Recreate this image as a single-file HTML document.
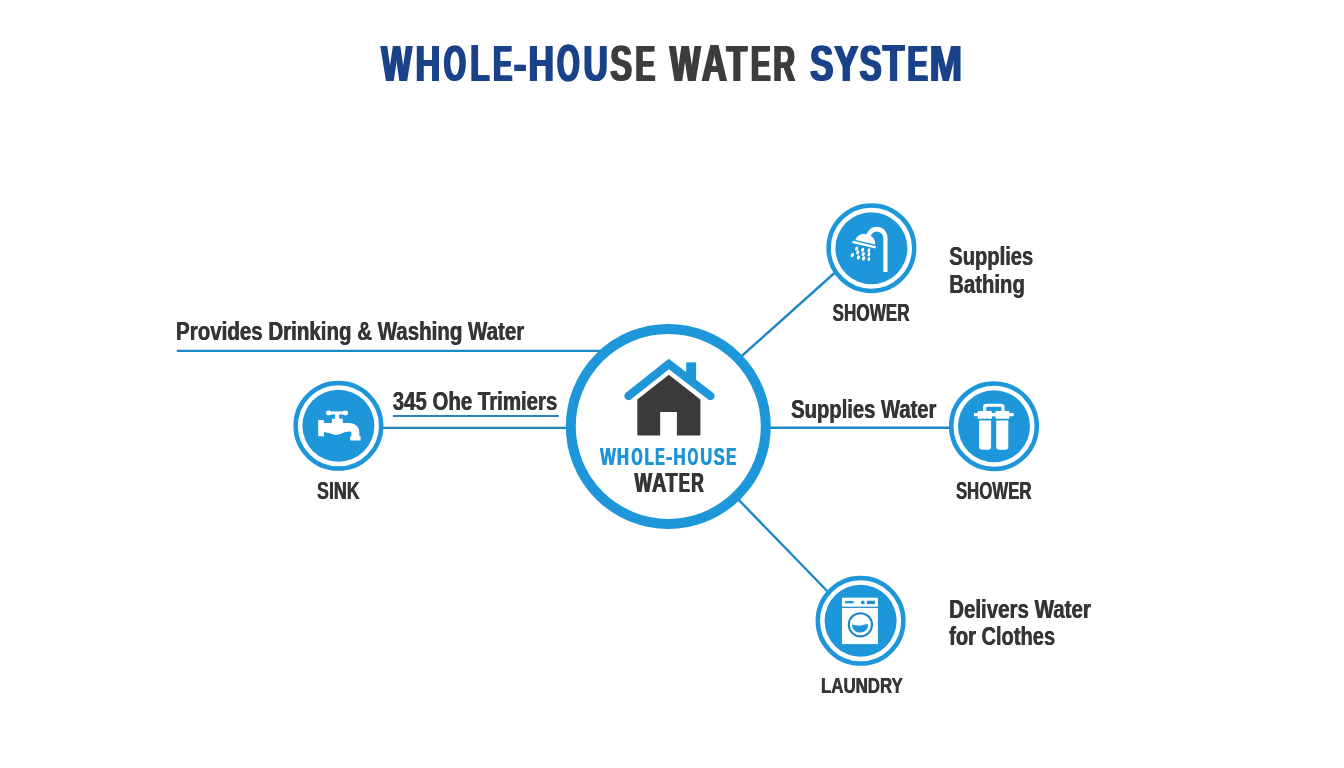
<!DOCTYPE html>
<html><head><meta charset="utf-8">
<style>
html,body{margin:0;padding:0;background:#fff;width:1344px;height:768px;overflow:hidden}
.wrap{will-change:transform;opacity:0.999}
svg{display:block}
text{-webkit-font-smoothing:antialiased}
text{font-family:"Liberation Sans",sans-serif;font-weight:bold}
</style></head>
<body>
<div class="wrap"><svg width="1344" height="768" viewBox="0 0 1344 768">
<rect width="1344" height="768" fill="#fff"/>

<!-- Title -->
<g id="title">
<text transform="translate(380.37 81.25) scale(0.6324 1)" font-size="50.87" fill="#19428a" style="text-shadow:2.85px 0 0 #19428a">W</text>
<text transform="translate(414.40 81.25) scale(0.6754 1)" font-size="50.87" fill="#19428a" style="text-shadow:2.67px 0 0 #19428a">H</text>
<text transform="translate(442.84 81.25) scale(0.5573 1)" font-size="50.87" fill="#19428a" style="text-shadow:3.23px 0 0 #19428a">O</text>
<text transform="translate(469.30 81.25) scale(0.6167 1)" font-size="50.87" fill="#19428a" style="text-shadow:2.92px 0 0 #19428a">L</text>
<text transform="translate(492.08 81.25) scale(0.5641 1)" font-size="50.87" fill="#19428a" style="text-shadow:3.19px 0 0 #19428a">E</text>
<text transform="translate(512.84 81.25) scale(0.7355 1)" font-size="50.87" fill="#19428a" style="text-shadow:2.45px 0 0 #19428a">-</text>
<text transform="translate(527.43 81.25) scale(0.6955 1)" font-size="50.87" fill="#19428a" style="text-shadow:2.59px 0 0 #19428a">H</text>
<text transform="translate(555.90 81.25) scale(0.5743 1)" font-size="50.87" fill="#19428a" style="text-shadow:3.13px 0 0 #19428a">O</text>
<text transform="translate(582.48 81.25) scale(0.6606 1)" font-size="50.87" fill="#19428a" style="text-shadow:2.72px 0 0 #19428a">U</text>
<text transform="translate(609.16 81.25) scale(0.6431 1)" font-size="50.87" fill="#3c3c3c" style="text-shadow:2.80px 0 0 #3c3c3c">S</text>
<text transform="translate(634.31 81.25) scale(0.5851 1)" font-size="50.87" fill="#3c3c3c" style="text-shadow:3.08px 0 0 #3c3c3c">E</text>
<text transform="translate(668.87 81.25) scale(0.6344 1)" font-size="50.87" fill="#3c3c3c" style="text-shadow:2.84px 0 0 #3c3c3c">W</text>
<text transform="translate(700.84 81.25) scale(0.6798 1)" font-size="50.87" fill="#3c3c3c" style="text-shadow:2.65px 0 0 #3c3c3c">A</text>
<text transform="translate(725.62 81.25) scale(0.6576 1)" font-size="50.87" fill="#3c3c3c" style="text-shadow:2.74px 0 0 #3c3c3c">T</text>
<text transform="translate(749.72 81.25) scale(0.5816 1)" font-size="50.87" fill="#3c3c3c" style="text-shadow:3.09px 0 0 #3c3c3c">E</text>
<text transform="translate(772.30 81.25) scale(0.5884 1)" font-size="50.87" fill="#3c3c3c" style="text-shadow:3.06px 0 0 #3c3c3c">R</text>
<text transform="translate(809.10 81.25) scale(0.6824 1)" font-size="50.87" fill="#19428a" style="text-shadow:2.64px 0 0 #19428a">S</text>
<text transform="translate(833.29 81.25) scale(0.7009 1)" font-size="50.87" fill="#19428a" style="text-shadow:2.57px 0 0 #19428a">Y</text>
<text transform="translate(858.55 81.25) scale(0.6464 1)" font-size="50.87" fill="#19428a" style="text-shadow:2.78px 0 0 #19428a">S</text>
<text transform="translate(881.70 81.25) scale(0.6977 1)" font-size="50.87" fill="#19428a" style="text-shadow:2.58px 0 0 #19428a">T</text>
<text transform="translate(906.24 81.25) scale(0.6061 1)" font-size="50.87" fill="#19428a" style="text-shadow:2.97px 0 0 #19428a">E</text>
<text transform="translate(928.38 81.25) scale(0.7703 1)" font-size="50.87" fill="#19428a" style="text-shadow:2.34px 0 0 #19428a">M</text>
</g>




<!-- connector lines -->
<g stroke="#1e88c6" stroke-width="2.4" fill="none">
  <line x1="176.8" y1="350.9" x2="605" y2="350.9"/>
  <line x1="766" y1="427.8" x2="952" y2="427.8"/>
  <line x1="735" y1="362" x2="840" y2="268"/>
  <line x1="733" y1="494" x2="832" y2="596"/>
</g>
<g stroke="#2784b4" stroke-width="2.2" fill="none">
  <line x1="380" y1="427.9" x2="570" y2="427.9"/>
  <line x1="393" y1="416" x2="558.8" y2="416"/>
</g>

<!-- central circle -->
<circle cx="668.3" cy="426.4" r="97.5" fill="#fff" stroke="#1d97da" stroke-width="10"/>

<!-- house -->
<path d="M637.3 399.5 L668.8 374.8 L700.4 399.5 V434.4 Q700.4 435.4 699.4 435.4 H676.9 V411.9 H660.2 V435.4 H638.3 Q637.3 435.4 637.3 434.4 Z" fill="#3c3a3b"/>
<rect x="686.2" y="362.4" width="9.9" height="20" fill="#1d97da"/>
<polyline points="628.5,396 668.8,364 710.5,396" fill="none" stroke="#1d97da" stroke-width="8.3" stroke-linecap="round" stroke-linejoin="miter"/>

<!-- central text -->
<g id="cwh">
<text transform="translate(599.68 464.9) scale(0.6786 1)" font-size="24.56" fill="#1d94d6" style="text-shadow:1.03px 0 0 #1d94d6">W</text>
<text transform="translate(616.60 464.9) scale(0.6717 1)" font-size="24.56" fill="#1d94d6" style="text-shadow:1.04px 0 0 #1d94d6">H</text>
<text transform="translate(631.02 464.9) scale(0.5742 1)" font-size="24.56" fill="#1d94d6" style="text-shadow:1.22px 0 0 #1d94d6">O</text>
<text transform="translate(644.31 464.9) scale(0.6029 1)" font-size="24.56" fill="#1d94d6" style="text-shadow:1.16px 0 0 #1d94d6">L</text>
<text transform="translate(654.72 464.9) scale(0.5950 1)" font-size="24.56" fill="#1d94d6" style="text-shadow:1.18px 0 0 #1d94d6">E</text>
<text transform="translate(665.55 464.9) scale(0.7856 1)" font-size="24.56" fill="#1d94d6" style="text-shadow:0.89px 0 0 #1d94d6">-</text>
<text transform="translate(673.06 464.9) scale(0.6925 1)" font-size="24.56" fill="#1d94d6" style="text-shadow:1.01px 0 0 #1d94d6">H</text>
<text transform="translate(687.25 464.9) scale(0.5508 1)" font-size="24.56" fill="#1d94d6" style="text-shadow:1.27px 0 0 #1d94d6">O</text>
<text transform="translate(700.02 464.9) scale(0.6637 1)" font-size="24.56" fill="#1d94d6" style="text-shadow:1.05px 0 0 #1d94d6">U</text>
<text transform="translate(713.33 464.9) scale(0.6591 1)" font-size="24.56" fill="#1d94d6" style="text-shadow:1.06px 0 0 #1d94d6">S</text>
<text transform="translate(725.77 464.9) scale(0.6240 1)" font-size="24.56" fill="#1d94d6" style="text-shadow:1.12px 0 0 #1d94d6">E</text>
</g>
<g id="cwa">
<text transform="translate(633.88 492.3) scale(0.6623 1)" font-size="28.05" fill="#353535" style="text-shadow:1.36px 0 0 #353535">W</text>
<text transform="translate(651.50 492.3) scale(0.7120 1)" font-size="28.05" fill="#353535" style="text-shadow:1.26px 0 0 #353535">A</text>
<text transform="translate(664.88 492.3) scale(0.7022 1)" font-size="28.05" fill="#353535" style="text-shadow:1.28px 0 0 #353535">T</text>
<text transform="translate(678.30 492.3) scale(0.5846 1)" font-size="28.05" fill="#353535" style="text-shadow:1.54px 0 0 #353535">E</text>
<text transform="translate(690.74 492.3) scale(0.6177 1)" font-size="28.05" fill="#353535" style="text-shadow:1.46px 0 0 #353535">R</text>
</g>


<!-- small circles -->
<g id="c_sink">
  <circle cx="338.4" cy="425.8" r="42.8" fill="#fff" stroke="#1d97da" stroke-width="4.5"/>
  <circle cx="338.4" cy="425.8" r="36" fill="#1d97da"/>
</g>
<g id="c_shower">
  <circle cx="871.4" cy="248.2" r="42.8" fill="#fff" stroke="#1d97da" stroke-width="4.5"/>
  <circle cx="871.4" cy="248.2" r="36" fill="#1d97da"/>
</g>
<g id="c_filter">
  <circle cx="994" cy="426.2" r="42.8" fill="#fff" stroke="#1d97da" stroke-width="4.5"/>
  <circle cx="994" cy="426.2" r="36" fill="#1d97da"/>
</g>
<g id="c_laundry">
  <circle cx="860.6" cy="620.8" r="42.8" fill="#fff" stroke="#1d97da" stroke-width="4.5"/>
  <circle cx="860.6" cy="620.8" r="36" fill="#1d97da"/>
</g>

<!-- faucet icon -->
<g fill="#fff">
  <ellipse cx="328.7" cy="412.9" rx="2.7" ry="2.4"/>
  <ellipse cx="345.4" cy="412.9" rx="2.7" ry="2.4"/>
  <rect x="328.6" y="411.4" width="17" height="3"/>
  <rect x="335.1" y="413" width="4.1" height="7"/>
  <path d="M318.2 420.1 H323.9 V423.1 H331.9 V418.8 H342.8 V423.1 H349 C355.5 423.1 359.3 427 359.3 432.5 V436.3 H360.6 V440.6 H350.2 V436.3 H351.4 V433 C351.4 432 350.5 431.6 349.5 431.6 C344 431.6 341 434.8 336.5 434.8 C332 434.8 329 432.2 323.9 432.2 V436.3 H318.2 Z"/>
</g>

<!-- shower icon -->
<g fill="#fff">
  <path d="M866.1 236.5 V237.5 A10.7 10.7 0 0 1 887.5 237.5 V271.9 H883.3 V238 A6.5 6.5 0 0 0 870.3 238 V237 Z"/>
  <path d="M855.3 240 A10 8.2 13.3 0 1 875.1 244.6 Z"/>
  <path d="M852.8 240.8 L876 246.3 L875.4 248.6 L852.2 243.1 Z"/>
  <g>
    <ellipse cx="856.6" cy="248.6" rx="1.5" ry="2.2" transform="rotate(20 856.6 248.6)"/>
    <ellipse cx="862.6" cy="249.8" rx="1.5" ry="2.2" transform="rotate(20 862.6 249.8)"/>
    <ellipse cx="868.9" cy="250.3" rx="1.35" ry="2.1" transform="rotate(10 868.9 250.3)"/>
    <ellipse cx="852.4" cy="255.1" rx="1.5" ry="2.2" transform="rotate(20 852.4 255.1)"/>
    <ellipse cx="857.7" cy="252.4" rx="1.5" ry="2.2" transform="rotate(20 857.7 252.4)"/>
    <ellipse cx="863.3" cy="254.1" rx="1.5" ry="2.2" transform="rotate(20 863.3 254.1)"/>
    <ellipse cx="868.9" cy="254.2" rx="1.35" ry="2.1" transform="rotate(10 868.9 254.2)"/>
    <ellipse cx="858.4" cy="257.4" rx="1.55" ry="2.2" transform="rotate(20 858.4 257.4)"/>
    <ellipse cx="863.6" cy="258.4" rx="1.55" ry="2.2" transform="rotate(20 863.6 258.4)"/>
    <ellipse cx="868.9" cy="259" rx="1.35" ry="2.1" transform="rotate(10 868.9 259)"/>
  </g>
</g>

<!-- filter icon -->
<g fill="#fff">
  <path d="M983.1 411.1 V407 Q983.1 403.8 986.3 403.8 H1001.3 Q1004.5 403.8 1004.5 407 V411.1 H1001.4 V407.9 Q1001.4 406.8 1000.3 406.8 H987.3 Q986.2 406.8 986.2 407.9 V411.1 Z"/>
  <rect x="977.7" y="411.1" width="14.2" height="7.7" rx="0.6"/>
  <rect x="995.5" y="411.1" width="13.9" height="7.7" rx="0.6"/>
  <rect x="991" y="412.9" width="5" height="3.5"/>
  <rect x="974" y="412.9" width="4.5" height="3.4" rx="0.8"/>
  <rect x="1008.8" y="412.9" width="4.9" height="3.4" rx="0.8"/>
  <path d="M979.1 421.2 Q979.1 420.6 979.7 420.6 H990.5 Q991.1 420.6 991.1 421.2 V446.7 Q991.1 449.7 988.1 449.7 H982.1 Q979.1 449.7 979.1 446.7 Z"/>
  <path d="M996.2 421.2 Q996.2 420.6 996.8 420.6 H1007.7 Q1008.3 420.6 1008.3 421.2 V446.7 Q1008.3 449.7 1005.3 449.7 H999.2 Q996.2 449.7 996.2 446.7 Z"/>
</g>

<!-- washer icon -->
<g>
  <rect x="842" y="597.7" width="35.9" height="46.4" fill="#fff"/>
  <rect x="842" y="606.7" width="35.9" height="1.2" fill="#1d88c4"/>
  <rect x="845.1" y="601.1" width="8.6" height="2.2" fill="#1f90cf"/>
  <circle cx="862.8" cy="602.4" r="1.9" fill="#1f90cf"/>
  <rect x="866.9" y="600.7" width="8" height="3.4" fill="#1f90cf"/>
  <circle cx="860.4" cy="624.8" r="11.6" fill="none" stroke="#1d88c4" stroke-width="2.1"/>
  <path d="M851.9 624.9 C854.5 624.4 856.5 625.8 859.5 625.8 C862.5 625.8 864.5 623.4 868.3 624.6 C868 629.6 864.4 632.6 860.2 632.6 C855.8 632.6 852.3 629.6 851.9 624.9 Z" fill="#1d97da"/>
</g>

<!-- labels -->
<g fill="#353535" style="text-shadow:0.75px 0 0 #353535">
<text id="t_prov" x="175.75" y="340.1" font-size="25.3" textLength="348.20" lengthAdjust="spacingAndGlyphs">Provides Drinking &amp; Washing Water</text>
<text id="t_345" x="392.45" y="410.4" font-size="25.5" textLength="164.60" lengthAdjust="spacingAndGlyphs">345 Ohe Trimiers</text>
<text id="t_sink" x="316.75" y="498.7" font-size="23.8" textLength="42.60" lengthAdjust="spacingAndGlyphs">SINK</text>
<text id="t_sh1" x="832.35" y="321" font-size="24.7" textLength="77.00" lengthAdjust="spacingAndGlyphs">SHOWER</text>
<text id="t_sh2" x="955.65" y="499" font-size="24.1" textLength="75.60" lengthAdjust="spacingAndGlyphs">SHOWER</text>
<text id="t_lau" x="820.65" y="692.7" font-size="22.7" textLength="81.90" lengthAdjust="spacingAndGlyphs">LAUNDRY</text>
<text id="t_sup1" x="948.95" y="265" font-size="25.7" textLength="84.00" lengthAdjust="spacingAndGlyphs">Supplies</text>
<text id="t_bath" x="948.95" y="292.5" font-size="25.7" textLength="75.60" lengthAdjust="spacingAndGlyphs">Bathing</text>
<text id="t_supw" x="790.85" y="418" font-size="26" textLength="145.30" lengthAdjust="spacingAndGlyphs">Supplies Water</text>
<text id="t_del" x="948.85" y="617.6" font-size="25.4" textLength="141.70" lengthAdjust="spacingAndGlyphs">Delivers Water</text>
<text id="t_for" x="948.85" y="644.8" font-size="25.4" textLength="106.00" lengthAdjust="spacingAndGlyphs">for Clothes</text>
</g>
</svg></div>
</body></html>
